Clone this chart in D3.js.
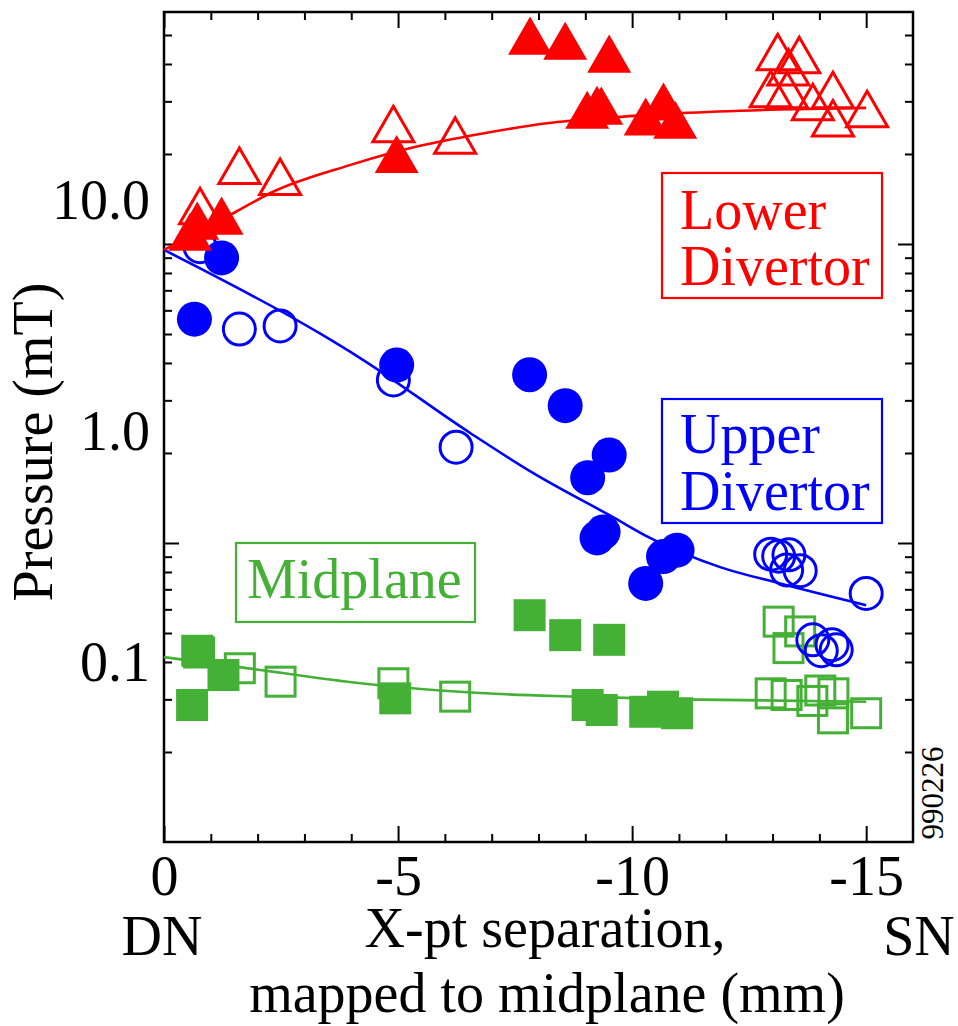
<!DOCTYPE html>
<html><head><meta charset="utf-8">
<script src="https://cdn.jsdelivr.net/npm/d3@7"></script>
<style>
body{margin:0;background:#fff}
svg{display:block}
</style>
</head><body>
<svg id="c" width="958" height="1026"></svg>
<script>
// ---------- data ----------
const xTickValues = [0, -5, -10, -15];
const xTickLabels = ["0", "-5", "-10", "-15"];
const yLabelValues = [10, 1, 0.1];
const yTickLabels = ["10.0", "1.0", "0.1"];
const yMinorTicks = [0.2,0.3,0.4,0.5,0.6,0.7,0.8,0.9,2,3,4,5,6,7,8,9,20,30,40,50];
const yMajorTicks = [1, 10];

// Lower divertor (red triangles)
const lowerOpen = [[-0.77,8.96],[-1.61,13.4],[-2.48,12.0],[-4.90,20.3],[-6.22,18.1],
  [-13.11,41.6],[-13.57,40.4],[-13.34,35.8],[-12.96,28.8],[-13.31,28.5],[-14.29,28.5],
  [-13.86,25.3],[-14.29,21.5],[-15.02,23.6]];
const lowerFilled = [[-7.82,48.8],[-8.57,46.4],[-9.51,40.8],[-9.04,23.3],[-9.25,24.5],
  [-9.34,24.3],[-10.29,21.8],[-10.67,25.3],[-10.92,21.1],[-4.97,15.0],[-1.23,8.11],
  [-0.71,7.72],[-0.56,6.92]];
const lowerFit = [[0,6.14],[-1.48,8.85],[-2.33,10.97],[-3.97,14.3],[-5.40,17.2],[-6.75,19.5],
  [-8.18,21.7],[-9.60,23.0],[-11.03,24.0],[-13.16,24.9],[-15.0,25.3]];

// Upper divertor (blue circles)
const upperOpen = [[-0.77,6.34],[-1.61,2.79],[-2.48,2.88],[-4.90,1.68],[-6.24,0.859],
  [-12.96,0.296],[-13.13,0.290],[-13.35,0.294],[-13.30,0.253],[-13.59,0.251],[-15.0,0.200],
  [-13.86,0.126],[-14.04,0.113],[-14.27,0.120],[-14.36,0.114]];
const upperFilled = [[-1.23,5.67],[-0.65,3.08],[-4.97,1.95],[-7.81,1.77],[-8.57,1.30],
  [-9.51,0.795],[-9.05,0.634],[-9.25,0.348],[-9.38,0.369],[-10.67,0.289],[-10.96,0.308],
  [-10.29,0.221]];
const upperFit = [[0,6.14],[-3.33,2.67],[-4.19,2.09],[-6.54,0.990],[-7.88,0.665],[-9.59,0.428],
  [-10.38,0.348],[-11.88,0.260],[-13.16,0.221],[-15.0,0.178]];

// Midplane (green squares)
const midOpen = [[-0.75,0.111],[-1.62,0.0949],[-2.49,0.0830],[-4.90,0.0817],[-6.22,0.0715],
  [-13.13,0.151],[-13.59,0.137],[-13.34,0.116],[-12.96,0.0739],[-13.30,0.0727],[-13.85,0.0685],
  [-14.02,0.0760],[-14.30,0.0739],[-14.29,0.0576],[-15.0,0.0606]];
const midFilled = [[-0.71,0.113],[-1.27,0.0887],[-0.60,0.0658],[-4.94,0.0703],[-7.81,0.161],
  [-8.57,0.132],[-9.51,0.126],[-9.05,0.0658],[-9.35,0.0626],[-10.28,0.0615],[-10.66,0.0647],
  [-10.96,0.0606]];
const midFit = [[0,0.106],[-2.05,0.0933],[-4.19,0.0817],[-6.75,0.0741],[-8.89,0.0715],
  [-11.03,0.0696],[-15.0,0.0680]];

const seriesNames = ["Lower", "Divertor", "Upper", "Divertor", "Midplane"];

// ---------- layout ----------
const FONT = '"Liberation Serif", "Times New Roman", Times, "DejaVu Serif", serif';
const RED = "#ff0000", BLUE = "#0000ff", GREEN = "#44b035";
const L = 164, R = 913, T = 12, B = 842;
const svg = d3.select("#c").attr("font-family", FONT).style("font-family", FONT);

const x = d3.scaleLinear().domain([0, -16]).range([L, R]);
const y = d3.scaleLog().domain([0.1, 10]).range([663, 201]);      // labelled value scale
const yT = d3.scaleLog().domain([0.1, 10]).range([B, 244]);      // tick-mark scale

// ---------- ticks ----------
const xMinor = d3.range(1, 16).map(d => -d).filter(d => d % 5 !== 0);
function tickGroup(axis, tr) { const g = svg.append("g").attr("transform", tr).call(axis);
  g.select(".domain").remove(); g.selectAll("line").attr("stroke", "#000").attr("stroke-width", 2); return g; }
tickGroup(d3.axisBottom(x).tickValues(xMinor).tickSize(-8).tickFormat(""), `translate(0,${B})`);
tickGroup(d3.axisBottom(x).tickValues(xTickValues).tickSize(-16).tickFormat(""), `translate(0,${B})`);
tickGroup(d3.axisTop(x).tickValues(xMinor).tickSize(-8).tickFormat(""), `translate(0,${T})`);
tickGroup(d3.axisTop(x).tickValues(xTickValues).tickSize(-16).tickFormat(""), `translate(0,${T})`);
tickGroup(d3.axisLeft(yT).tickValues(yMinorTicks).tickSize(-8).tickFormat(""), `translate(${L},0)`);
tickGroup(d3.axisLeft(yT).tickValues(yMajorTicks).tickSize(-15).tickFormat(""), `translate(${L},0)`);
tickGroup(d3.axisRight(yT).tickValues(yMinorTicks).tickSize(-8).tickFormat(""), `translate(${R},0)`);
tickGroup(d3.axisRight(yT).tickValues(yMajorTicks).tickSize(-15).tickFormat(""), `translate(${R},0)`);

// tick labels
const xl = svg.append("g").attr("transform", `translate(0,${B})`)
  .call(d3.axisBottom(x).tickValues(xTickValues).tickSize(0).tickPadding(13)
    .tickFormat((d, i) => xTickLabels[i]));
xl.attr("font-family", FONT).attr("font-size", 56);
xl.select(".domain").remove();
xl.selectAll("text").attr("font-size", 56).attr("fill", "#000").attr("font-family", FONT).style("font-family", FONT);
const yl = svg.append("g").attr("transform", `translate(${L},0)`)
  .call(d3.axisLeft(y).tickValues(yLabelValues).tickSize(0).tickPadding(14)
    .tickFormat((d, i) => yTickLabels[i]));
yl.attr("font-family", FONT).attr("font-size", 56);
yl.select(".domain").remove();
yl.selectAll("text").attr("font-size", 56).attr("fill", "#000").attr("font-family", FONT).style("font-family", FONT);

// frame
svg.append("rect").attr("x", L).attr("y", T).attr("width", R - L).attr("height", B - T)
  .attr("fill", "none").attr("stroke", "#000").attr("stroke-width", 2.5);

// ---------- fits ----------
const line = d3.line().x(d => x(d[0])).y(d => y(d[1])).curve(d3.curveMonotoneX);
[[midFit, GREEN], [upperFit, BLUE], [lowerFit, RED]].forEach(([d, c]) =>
  svg.append("path").datum(d).attr("d", line).attr("fill", "none").attr("stroke", c).attr("stroke-width", 2.6));

// ---------- markers ----------
function squares(data, c, filled) {
  const s = filled ? 32 : 29;
  svg.append("g").selectAll("rect").data(data).join("rect")
    .attr("x", d => x(d[0]) - s / 2).attr("y", d => y(d[1]) - s / 2).attr("width", s).attr("height", s)
    .attr("fill", filled ? c : "none").attr("stroke", filled ? "none" : c).attr("stroke-width", 3);
}
function circles(data, c, filled) {
  svg.append("g").selectAll("circle").data(data).join("circle")
    .attr("cx", d => x(d[0])).attr("cy", d => y(d[1])).attr("r", filled ? 17.5 : 16)
    .attr("fill", filled ? c : "none").attr("stroke", filled ? "none" : c).attr("stroke-width", 3);
}
function triangles(data, c, filled) {
  const side = filled ? 44 : 41;
  const sym = d3.symbol(d3.symbolTriangle, side * side * Math.sqrt(3) / 4);
  svg.append("g").selectAll("path").data(data).join("path")
    .attr("transform", d => `translate(${x(d[0])},${y(d[1])})`).attr("d", sym)
    .attr("fill", filled ? c : "none").attr("stroke", filled ? "none" : c).attr("stroke-width", 3);
}
squares(midOpen, GREEN, false); squares(midFilled, GREEN, true);
circles(upperOpen, BLUE, false); circles(upperFilled, BLUE, true);
triangles(lowerOpen, RED, false); triangles(lowerFilled, RED, true);

// ---------- labels ----------
function box(x0, y0, x1, y1, c) {
  svg.append("rect").attr("x", x0).attr("y", y0).attr("width", x1 - x0).attr("height", y1 - y0)
    .attr("fill", "none").attr("stroke", c).attr("stroke-width", 2.2);
}
function txt(t, px, py, c, fs, anchor) {
  return svg.append("text").attr("x", px).attr("y", py).attr("fill", c).attr("font-size", fs)
    .attr("font-family", FONT).style("font-family", FONT)
    .attr("text-anchor", anchor || "start").text(t);
}
box(662, 173, 882, 298, RED);
txt(seriesNames[0], 680, 229, RED, 56); txt(seriesNames[1], 680, 285, RED, 56);
box(662, 399, 882, 523, BLUE);
txt(seriesNames[2], 680, 453, BLUE, 56); txt(seriesNames[3], 680, 510, BLUE, 56);
box(236, 543, 475, 622, GREEN);
txt(seriesNames[4], 247, 598, GREEN, 56);

// axis titles
txt("Pressure (mT)", 0, 0, "#000", 56, "middle").attr("transform", "translate(52,442) rotate(-90)");
txt("DN", 162, 955, "#000", 56, "middle");
txt("SN", 919, 955, "#000", 56, "middle");
txt("X-pt separation,", 545, 947, "#000", 56, "middle");
txt("mapped to midplane (mm)", 547, 1012, "#000", 56, "middle");
txt("990226", 0, 0, "#000", 31, "middle").attr("transform", "translate(943,793) rotate(-90)");
</script>
</body></html>
